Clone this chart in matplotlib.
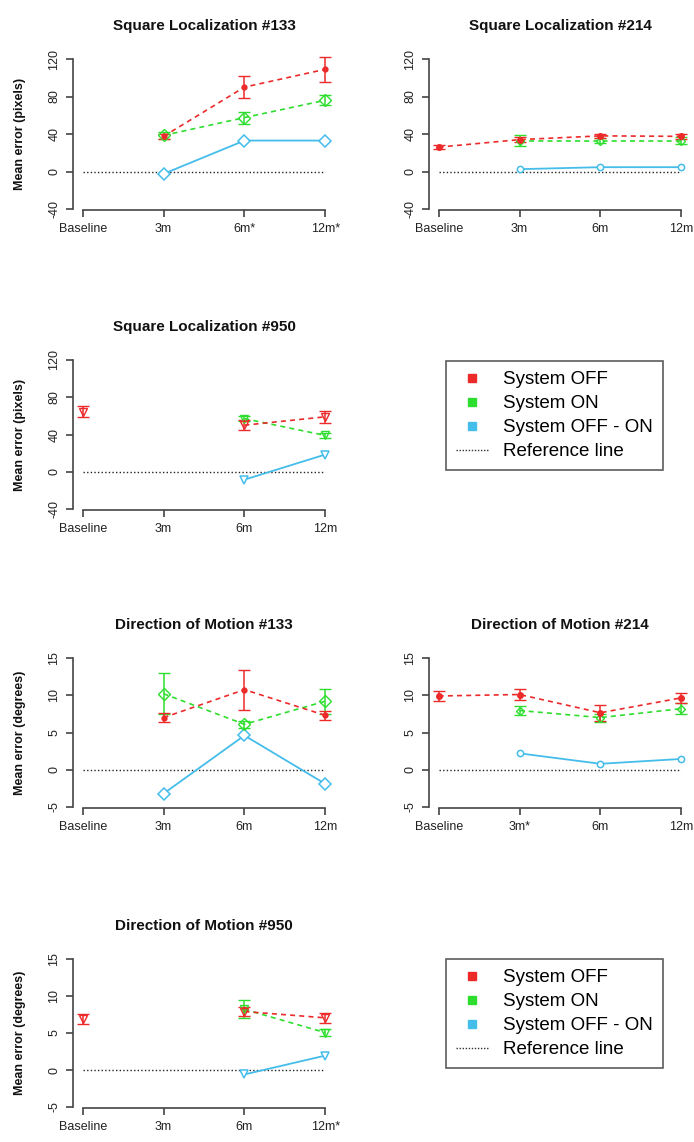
import matplotlib
matplotlib.use("Agg")
import matplotlib.pyplot as plt
from matplotlib.lines import Line2D
import numpy as np

plt.rcParams['font.family'] = ['Liberation Sans', 'DejaVu Sans']

nan = np.nan
timepoints = [1, 2, 3, 4]

# Square Localization (pixels)
sl133_off = [nan, 37.5, 90, 109]
sl133_off_err = [nan, 3, 12, 13.5]
sl133_on = [nan, 38.5, 57.5, 76]
sl133_on_err = [nan, 4, 6.5, 5.5]
sl133_diff = [nan, -2.5, 33, 33]

sl214_off = [26, 34, 38, 37.5]
sl214_off_err = [2, 3, 2.5, 2.5]
sl214_on = [nan, 33, 33, 33]
sl214_on_err = [nan, 6, 2.5, 3.5]
sl214_diff = [nan, 2.5, 4.6, 4.6]

sl950_off = [64.5, nan, 50, 59]
sl950_off_err = [6, nan, 5.5, 6.3]
sl950_on = [nan, nan, 57, 39]
sl950_on_err = [nan, nan, 3, 2.5]
sl950_diff = [nan, nan, -8.5, 18.5]

# Direction of Motion (degrees)
dm133_off = [nan, 7.0, 10.75, 7.3]
dm133_off_err = [nan, 0.6, 2.7, 0.65]
dm133_on = [nan, 10.2, 6.1, 9.2]
dm133_on_err = [nan, 2.75, 0.5, 1.7]
dm133_diff = [nan, -3.2, 4.6, -1.9]

dm214_off = [9.9, 10.1, 7.65, 9.65]
dm214_off_err = [0.7, 0.7, 1.1, 0.67]
dm214_on = [nan, 7.95, 7.0, 8.2]
dm214_on_err = [nan, 0.6, 0.55, 0.7]
dm214_diff = [nan, 2.2, 0.8, 1.45]

dm950_off = [6.85, nan, 7.9, 7.05]
dm950_off_err = [0.67, nan, 0.6, 0.67]
dm950_on = [nan, nan, 8.2, 5.05]
dm950_on_err = [nan, nan, 1.2, 0.45]
dm950_diff = [nan, nan, -0.6, 1.95]

sl_ticks = [-40, 0, 40, 80, 120]
dm_ticks = [-5, 0, 5, 10, 15]

RED = '#EC2A2A'
GREEN = '#2EDE2E'
BLUE = '#45BDEA'
AX = '#444444'

W, H = 694, 1142
fig = plt.figure(figsize=(W / 100, H / 100), dpi=100)


def make_ax(left, top, bottom):
    return fig.add_axes([left / W, 1 - bottom / H, 262 / W, (bottom - top) / H])


def panel(ax, title, xlabels, yticks, ylabel, off, off_err, on, on_err, diff, markers, msizes):
    mo, mn, md = markers
    so, sn, sd = msizes
    # reference line
    ax.plot([1, 4], [0, 0], color='#222222', ls=(0, (1, 1.6)), lw=1)
    # System OFF - ON
    ax.plot(timepoints, diff, color=BLUE, lw=1.3, marker=md, ms=sd,
            mfc='white', mec=BLUE, mew=1.1, clip_on=False)
    # System ON
    ax.plot(timepoints, on, color=GREEN, lw=1.2, ls=(0, (3, 2.5)), clip_on=False)
    ax.errorbar(timepoints, on, yerr=on_err, fmt=mn, ms=sn, mfc='none', mec=GREEN,
                color=GREEN, ecolor=GREEN, elinewidth=1.1, capsize=4, capthick=1.1,
                mew=1.0, clip_on=False)
    # System OFF
    ax.plot(timepoints, off, color=RED, lw=1.2, ls=(0, (3, 2.5)), clip_on=False)
    filled = mo in ('.', 'o')
    ax.errorbar(timepoints, off, yerr=off_err, fmt=mo, ms=so,
                mfc=RED if filled else 'none', mec=RED,
                color=RED, ecolor=RED, elinewidth=1.1, capsize=4, capthick=1.1,
                mew=1.0, clip_on=False)

    ax.set_xlim(0.88, 4.12)
    ax.set_ylim(yticks[0], yticks[-1])
    ax.set_xticks(timepoints)
    ax.set_xticklabels(xlabels)
    ax.set_yticks(yticks)
    ax.set_yticklabels([str(t) for t in yticks], rotation=90, va='center')
    for s in ('top', 'right'):
        ax.spines[s].set_visible(False)
    ax.spines['left'].set_bounds(yticks[0], yticks[-1])
    ax.spines['bottom'].set_bounds(1, 4)
    ax.spines['bottom'].set_position(('outward', 1))
    for s in ('left', 'bottom'):
        ax.spines[s].set_color(AX)
        ax.spines[s].set_linewidth(1.2)
    ax.tick_params(length=5, width=1.2, color=AX, labelsize=9, labelcolor='#222222', pad=4)
    ax.patch.set_visible(False)
    ax.set_title(title, fontsize=11, fontweight='bold', pad=21, color='#111111')
    if ylabel:
        ax.text(-53 / 262, 0.5, ylabel, transform=ax.transAxes, rotation=90,
                ha='center', va='center', fontsize=9, fontweight='bold', color='#111111')


LX, RX = 73, 429
ax1 = make_ax(LX, 59, 209)
ax2 = make_ax(RX, 59, 209)
ax3 = make_ax(LX, 360, 509)
ax4 = make_ax(LX, 658, 807)
ax5 = make_ax(RX, 658, 807)
ax6 = make_ax(LX, 959, 1107)

dmk = ('.', 'D', 'D')
smk = ('o', 'D', 'o')
vmk = ('v', 'v', 'v')

panel(ax1, 'Square Localization #133', ['Baseline', '3m', '6m*', '12m*'], sl_ticks,
      'Mean error (pixels)', sl133_off, sl133_off_err, sl133_on, sl133_on_err, sl133_diff,
      dmk, (7, 6, 6.5))
panel(ax2, 'Square Localization #214', ['Baseline', '3m', '6m', '12m'], sl_ticks,
      None, sl214_off, sl214_off_err, sl214_on, sl214_on_err, sl214_diff,
      smk, (4, 4, 4.5))
panel(ax3, 'Square Localization #950', ['Baseline', '3m', '6m', '12m'], sl_ticks,
      'Mean error (pixels)', sl950_off, sl950_off_err, sl950_on, sl950_on_err, sl950_diff,
      vmk, (6, 6, 6))
panel(ax4, 'Direction of Motion #133', ['Baseline', '3m', '6m', '12m'], dm_ticks,
      'Mean error (degrees)', dm133_off, dm133_off_err, dm133_on, dm133_on_err, dm133_diff,
      dmk, (7, 6, 6.5))
panel(ax5, 'Direction of Motion #214', ['Baseline', '3m*', '6m', '12m'], dm_ticks,
      None, dm214_off, dm214_off_err, dm214_on, dm214_on_err, dm214_diff,
      smk, (4, 4, 4.5))
panel(ax6, 'Direction of Motion #950', ['Baseline', '3m', '6m', '12m*'], dm_ticks,
      'Mean error (degrees)', dm950_off, dm950_off_err, dm950_on, dm950_on_err, dm950_diff,
      vmk, (6, 6, 6))

labels = ['System OFF', 'System ON', 'System OFF - ON', 'Reference line']
handles = [
    Line2D([], [], ls='none', marker='s', ms=5.5, color=RED),
    Line2D([], [], ls='none', marker='s', ms=5.5, color=GREEN),
    Line2D([], [], ls='none', marker='s', ms=5.5, color=BLUE),
    Line2D([], [], ls=(0, (1, 1.2)), lw=1, color='#333333'),
]
for top in (361, 959):
    leg = fig.legend(handles, labels, loc='upper left',
                     bbox_to_anchor=(446 / W, 1 - top / H), borderaxespad=0,
                     fontsize=13.5, frameon=True, fancybox=False, edgecolor='#333333',
                     handlelength=1.7, handletextpad=0.8, labelspacing=0.36,
                     borderpad=0.55)
    leg.get_frame().set_linewidth(1.2)

fig.savefig('out.png', dpi=100)
